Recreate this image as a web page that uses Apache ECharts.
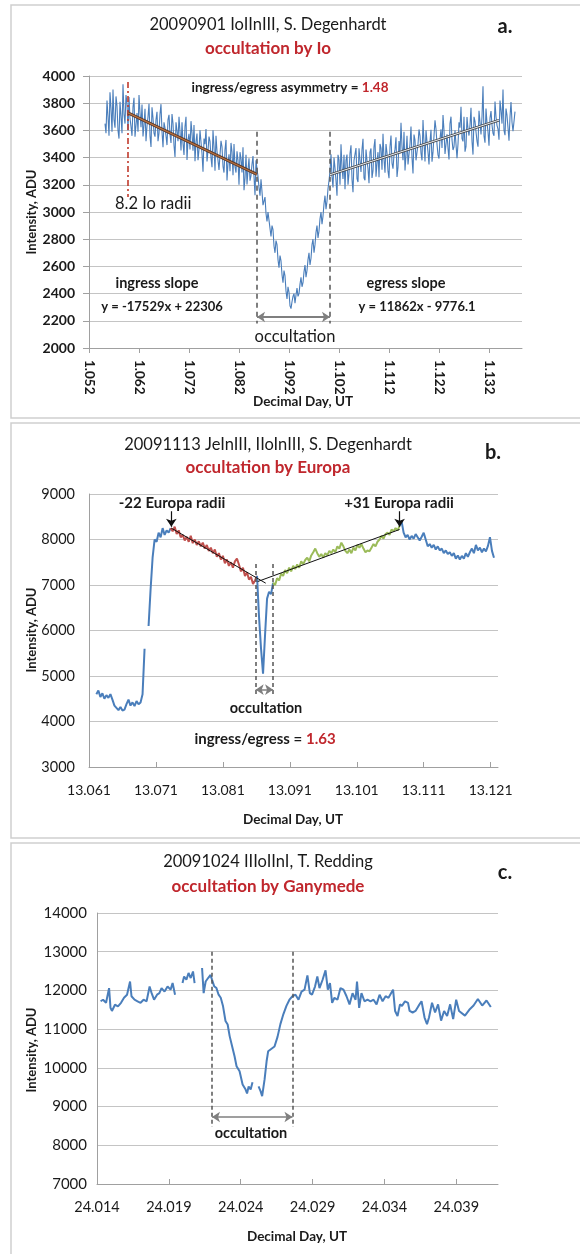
<!DOCTYPE html>
<html><head><meta charset="utf-8">
<script src="https://cdn.jsdelivr.net/npm/echarts@6/dist/echarts.min.js"></script>
<style>html,body{margin:0;padding:0;background:#fff}#c{width:580px;height:1254px}</style>
</head><body><div id="c"></div><script>
// ---------- Panel a: 20090901, occultation by Io ----------
// two interleaved sample sets (even / odd samples)
const aStartEven = 1.0552, aStartOdd = 1.0554, aStep = 0.0004;
const aIntensityEven = [
3650,3820,3560,3760,3900,3620,3780,3540,3700,3940,3650,3800,
3845,3628,3771,3554,3727,3860,3623,3556,3759,3632,3795,3478,3691,3554,3737,3580,3793,3476,3619,3492,3715,3508,3651,3404,3597,3700,3453,3506,3629,3382,3575,3668,3451,3374,3577,3460,3603,3296,3499,3372,3555,3398,3601,3304,3447,3310,3523,3336,3459,3232,3425,3508,3271,3334,3447,3200,3393,3476,3249,3202,3395,3268,3411,3124,3317,
3180,3240,3050,3110,2930,2990,2820,2870,2700,2760,2590,2640,2480,2530,2360,2410,2290,
2380,2330,2440,2400,2520,2480,2610,2570,2700,2660,2800,2760,2900,2860,3000,2970,3120,3080,3230,
3425,3180,3324,3119,3383,3498,3243,3167,3422,3286,3491,3146,3390,3245,3469,3294,3539,3233,3378,3212,3467,3302,3536,3361,3255,3470,3575,3289,3434,3248,3563,3318,3462,3257,3521,3656,3381,3305,3560,3424,3629,3284,3528,3383,3607,3432,3677,3371,3516,3350,3605,3440,3674,3499,3393,3608,3713,3427,3572,3386,3701,3456,3600,3395,3659,3774,3519,3443,3698,3562,3767,3422,3666,3521,3745,3570,3925,3509,3654,3488,3743,3578,3812,3637,3531,3746,3901,3565,3710,3524,3809,3594,3738
];
const aIntensityOdd = [
3580,3700,3880,3590,3680,3850,3600,3810,3580,3720,3860,3600,
3690,3560,3840,3640,3590,3730,3790,3640,3520,3700,3560,3770,3580,3680,3520,3720,3590,3660,3560,3680,3570,3720,3490,3660,3520,3590,3660,3420,3700,3530,3460,3580,3640,3520,3380,3600,3430,3540,3610,3450,3520,3330,3480,3560,3380,3420,3480,3290,3530,3360,3300,3440,3500,3290,3380,3440,3290,3160,3420,3310,3230,3350,3260,3380,
3260,
3120,3150,3060,2990,3000,2880,2900,2750,2790,2650,2680,2540,2570,2420,2450,2310,
2340,
2400,2390,2380,2470,2450,2560,2520,2650,2610,2760,2700,2850,2810,2950,2910,3060,3020,3170,
3300,
3260,3400,3230,3420,3200,3330,3420,3380,3200,3430,3240,3380,3470,3220,3380,3460,3250,3460,3320,3440,3250,3480,3260,3440,3500,3310,3390,3500,3300,3480,3360,3420,3550,3330,3430,3480,3590,3420,3350,3500,3400,3570,3380,3500,3560,3380,3510,3600,3440,3520,3370,3560,3610,3420,3540,3470,3600,3500,3470,3650,3530,3480,3600,3500,3620,3540,3700,3480,3610,3640,3520,3700,3590,3480,3660,3700,3560,3760,3590,3690,3640,3560,3700,3610,3820,3650,3600,3760,3620,3700,3660,3580
];
const aIngressFit = [[1.0598, 3729], [1.0856, 3276]];
const aEgressFit = [[1.1002, 3274], [1.1340, 3675]];
const aOccultation = [1.0856, 1.1002];
const aRadiusMark = 1.0598;

// ---------- Panel b: 20091113, occultation by Europa ----------
const bStart = 13.0621, bStep = 0.0003;
const bIntensity = [
4600,4680,4540,4620,4500,4580,4520,4600,4480,4350,4300,4250,4320,4240,4260,4380,4480,4350,4420,4340,4450,4380,4420,4600,
5600,null,
6100,6900,7600,8000,7950,8150,8050,8250,8100,8200,8150,
8250,8180,8280,8120,8200,8050,8100,7980,8060,7950,8080,7920,8000,7880,7960,7850,7930,7800,7880,7750,7820,7700,7780,7620,7700,7560,7640,7480,7560,7420,7500,7380,7520,7580,7450,7300,7380,7200,7280,7120,7180,7020,7100,7200,
6300,5600,5050,5900,6700,6850,6800,
7050,7000,7150,7100,7250,7200,7330,7260,7380,7300,7420,7350,7450,7380,7520,7460,7550,7600,7520,7650,7720,7800,7700,7620,7680,7600,7700,7650,7750,7700,7780,7720,7850,7800,7930,7850,7750,7700,7780,7700,7820,7760,7880,7820,7900,7800,7720,7760,7740,7820,7900,7850,7950,8000,8080,8020,8120,8150,8100,8220,8180,8250,8200,8300,
8400,8150,8050,8100,8000,8080,8020,8120,8050,7980,8060,8150,8000,7850,7900,7820,7880,7780,7850,7760,7800,7700,7760,7680,7720,7640,7700,7580,7650,7560,7640,7580,7700,7620,7720,7800,7700,7880,7760,7820,7720,7800,7740,7860,8050,7750,7600
];
// index ranges (inclusive) of the coloured pieces
const bPieces = [
  {from: 0, to: 37, color: '#4a7ebb'},
  {from: 37, to: 80, color: '#c0504d'},
  {from: 80, to: 88, color: '#4a7ebb'},
  {from: 88, to: 151, color: '#9bbb59'},
  {from: 151, to: 198, color: '#4a7ebb'}
];
const bIngressFit = [[13.0733, 8250], [13.0874, 7040]];
const bEgressFit = [[13.0862, 7076], [13.1074, 8220]];
const bOccultation = [13.0859, 13.0885];
const bRadiusMarks = [13.0733, 13.1074];

// ---------- Panel c: 20091024, occultation by Ganymede ----------
const cDay = [24.01425,24.01442,24.01463,24.01484,24.01494,24.01504,24.01525,24.01546,24.01567,24.01588,24.01609,24.0163,24.0164,24.01661,24.01682,24.01703,24.01724,24.01745,24.01766,24.0178,24.01797,24.01818,24.01834,24.01849,24.0187,24.01891,24.01912,24.01926,24.01943,
24.0197,
24.01995,24.02006,24.02022,24.02037,24.02052,24.02068,24.02079,
24.02105,
24.02131,24.02142,24.02156,24.02173,24.0219,24.022,24.02215,24.02231,24.02246,24.02261,24.02277,24.02294,24.02309,24.02323,24.0234,24.02357,24.02371,24.02392,24.02413,24.02434,24.02444,24.02455,24.02469,24.02482,
24.02503,
24.02524,24.02538,24.02549,24.02566,24.0258,24.02591,24.02601,
24.02635,24.02656,24.02676,24.02697,24.02718,24.02739,24.0276,24.02781,24.02802,24.02823,24.02844,24.02864,24.02881,24.02896,24.02917,24.02933,24.02948,24.02969,24.0299,24.03006,24.03021,24.03036,24.03052,24.03073,24.03094,24.03115,24.03136,24.03157,24.03178,24.03199,24.03209,24.03224,24.0324,24.03261,24.03282,24.03303,24.03324,24.03345,24.03366,24.03387,24.03408,24.03428,24.0346,24.03474,24.03491,24.03508,24.03522,24.03543,24.03564,24.03575,24.03596,24.03616,24.03637,24.03658,24.03679,24.03696,24.0371,24.03731,24.03752,24.03773,24.03794,24.03815,24.03836,24.03857,24.03878,24.03899,24.03919,
24.0396,24.0399,24.0402,24.0405,24.0408,24.0411,24.0414];
const cIntensity = [11720,11760,11680,12060,11550,11470,11630,11590,11680,11810,11890,12230,11850,11760,11720,11680,11760,11720,12100,11930,11760,11890,11930,12060,11970,12100,12020,12190,11890,
null,
12190,12360,12280,12450,12320,12490,12190,
null,
12580,11930,12230,12320,12400,12280,12110,12060,11890,11810,11590,11210,11120,10820,10560,10300,10040,9910,9570,9440,9340,9520,9440,9630,
null,
9520,9400,9270,9700,10170,10430,10390,
10550,10800,11130,11390,11600,11760,11850,11890,11760,11970,12020,12390,11930,11890,12100,12360,12060,12270,12520,12020,12190,11680,11810,11760,12060,12020,11850,11640,11930,11760,12230,11550,11930,11720,11760,11720,11760,11640,11890,11720,11850,11810,12020,11470,11340,11640,11600,11720,11680,11470,11430,11470,11600,11720,11300,11130,11300,11680,11430,11640,11220,11470,11340,11640,11260,11760,11470,
11350,11500,11610,11780,11610,11740,11570];
const cOccultation = [24.0220, 24.0276];

// ---------- chart ----------
const FONT = 'Lato, "Liberation Sans", sans-serif';
const BLUE = '#4a7ebb', RED = '#c0272d', TXT = '#1a1a1a';
const chart = echarts.init(document.getElementById('c'), null, {renderer: 'canvas', width: 580, height: 1254});

function uniform(start, step, vals, from, to) {
  const out = [];
  for (let i = from; i <= to; i++) out.push([+(start + i * step).toFixed(5), vals[i] == null ? '-' : vals[i]]);
  return out;
}
function seg(g, coords, lineStyle, symbol, z) {
  return {type: 'lines', coordinateSystem: 'cartesian2d', xAxisIndex: g, yAxisIndex: g, silent: true,
    z: z || 4, symbol: symbol || 'none', symbolSize: 8, lineStyle: Object.assign({opacity: 1}, lineStyle),
    data: [{coords: coords}], animation: false};
}
function xAx(g, min, max, interval, lab, tickInside) {
  return {gridIndex: g, type: 'value', min: min, max: max, interval: interval,
    axisLine: {show: true, lineStyle: {color: '#a0a0a0', width: 1}},
    axisTick: {show: true, inside: tickInside, length: 5, lineStyle: {color: '#a0a0a0'}},
    splitLine: {show: false},
    axisLabel: Object.assign({showMaxLabel: false, color: TXT, fontFamily: FONT,
      formatter: v => v.toFixed(3)}, lab)};
}
function yAx(g, min, max, interval, lab, tick) {
  return {gridIndex: g, type: 'value', min: min, max: max, interval: interval,
    axisLine: {show: true, lineStyle: {color: '#a0a0a0', width: 1}},
    axisTick: {show: tick, length: 6, lineStyle: {color: '#a0a0a0'}},
    splitLine: {show: true, lineStyle: {color: '#c4c4c4', width: 1}},
    axisLabel: Object.assign({color: TXT, fontFamily: FONT, formatter: v => String(Math.round(v))}, lab)};
}
function T(x, y, text, font, extra) {
  return Object.assign({type: 'text', x: x, y: y, z: 20, silent: true,
    style: Object.assign({text: text, fill: TXT, font: font, align: 'center', verticalAlign: 'middle'}, (extra && extra.style) || {})},
    extra && extra.rotation ? {rotation: extra.rotation} : {});
}
const bold = s => 'bold ' + s + 'px ' + FONT;
const reg = s => s + 'px ' + FONT;

// merge the two sample sets of panel a in time order
const aData = uniform(aStartEven, aStep, aIntensityEven, 0, aIntensityEven.length - 1)
  .concat(uniform(aStartOdd, aStep, aIntensityOdd, 0, aIntensityOdd.length - 1))
  .sort((p, q) => p[0] - q[0]);

const series = [];
// panel a
series.push({type: 'line', xAxisIndex: 0, yAxisIndex: 0, data: aData,
  symbol: 'none', lineStyle: {color: BLUE, width: 1.1}, z: 2, animation: false});
series.push(seg(0, aIngressFit, {color: '#5b3a2a', width: 3}, 'none', 5));
series.push(seg(0, aIngressFit, {color: '#b8703f', width: 1.2}, 'none', 6));
series.push(seg(0, aEgressFit, {color: '#4a4a4a', width: 2.6}, 'none', 5));
series.push(seg(0, aEgressFit, {color: '#e8eef6', width: 1}, 'none', 6));
series.push(seg(0, [[aRadiusMark, 3956], [aRadiusMark, 3110]], {color: '#c0392b', width: 1.6, type: [6, 3, 2, 3]}));
aOccultation.forEach(x => series.push(seg(0, [[x, 3590], [x, 2180]], {color: '#555', width: 1.5, type: [5, 4]})));
series.push(seg(0, [[aOccultation[0], 2228], [aOccultation[1], 2228]], {color: '#7f7f7f', width: 2}, ['arrow', 'arrow']));
// panel b
bPieces.forEach(p => series.push({type: 'line', xAxisIndex: 1, yAxisIndex: 1,
  data: uniform(bStart, bStep, bIntensity, p.from, p.to), symbol: 'none',
  lineStyle: {color: p.color, width: 2}, z: 2, animation: false}));
series.push(seg(1, bIngressFit, {color: '#111', width: 1}));
series.push(seg(1, bEgressFit, {color: '#111', width: 1}));
bRadiusMarks.forEach(x => series.push(seg(1, [[x, 8620], [x, 8280]], {color: '#111', width: 1.2}, ['none', 'arrow'])));
bOccultation.forEach(x => series.push(seg(1, [[x, 7460], [x, 4580]], {color: '#555', width: 1.5, type: [4, 3]})));
series.push(seg(1, [[bOccultation[0], 4700], [bOccultation[1], 4700]], {color: '#7f7f7f', width: 1.5}, ['arrow', 'arrow']));
// panel c
series.push({type: 'line', xAxisIndex: 2, yAxisIndex: 2, data: cDay.map((d, i) => [d, cIntensity[i] == null ? '-' : cIntensity[i]]),
  symbol: 'none', connectNulls: false, lineStyle: {color: BLUE, width: 2}, z: 2, animation: false});
cOccultation.forEach(x => series.push(seg(2, [[x, 13000], [x, 8470]], {color: '#555', width: 1.5, type: [4, 3]})));
series.push(seg(2, [[cOccultation[0], 8730], [cOccultation[1], 8730]], {color: '#7f7f7f', width: 1.5}, ['arrow', 'arrow']));

const frame = (y, h) => ({type: 'rect', z: -10, silent: true, shape: {x: 11, y: y, width: 600, height: h},
  style: {fill: '#fff', stroke: '#cfcfcf', lineWidth: 1.5}});

const graphics = [
  frame(5, 413), frame(423, 415), frame(843, 420),
  // panel a
  T(268, 25, '20090901 IoIInIII, S. Degenhardt', reg(16.5)),
  T(268, 49, 'occultation by Io', bold(17), {style: {fill: RED}}),
  T(505, 27, 'a.', bold(20)),
  T(290, 88, 'ingress/egress asymmetry = {r|1.48}', bold(13.5), {style: {rich: {r: {fill: RED, font: bold(13.5)}}}}),
  T(115, 204, '8.2 Io radii', reg(16.5), {style: {align: 'left'}}),
  T(157, 283, 'ingress slope', bold(14.5)),
  T(162, 307, 'y = -17529x + 22306', bold(13)),
  T(406, 283, 'egress slope', bold(14.5)),
  T(417, 307, 'y = 11862x - 9776.1', bold(13)),
  T(295, 337, 'occultation', reg(16.5)),
  T(32, 212, 'Intensity, ADU', bold(13), {rotation: Math.PI / 2}),
  T(303, 402, 'Decimal Day, UT', bold(13.5), {style: {backgroundColor: '#fff', padding: [1, 2]}}),
  // panel b
  T(268, 445, '20091113 JeInIII, IIoInIII, S. Degenhardt', reg(16.5)),
  T(268, 468, 'occultation by Europa', bold(17), {style: {fill: RED}}),
  T(493, 453, 'b.', bold(20)),
  T(172, 503, '-22 Europa radii', bold(15)),
  T(399, 503, '+31 Europa radii', bold(15)),
  T(266, 708, 'occultation', bold(14.5)),
  T(265, 739, 'ingress/egress = {r|1.63}', bold(15), {style: {rich: {r: {fill: RED, font: bold(15)}}}}),
  T(32, 630, 'Intensity, ADU', bold(13), {rotation: Math.PI / 2}),
  T(293, 820, 'Decimal Day, UT', bold(13.5)),
  // panel c
  T(268, 862, '20091024 IIIoIInI, T. Redding', reg(16.5)),
  T(268, 887, 'occultation by Ganymede', bold(17), {style: {fill: RED}}),
  T(505, 873, 'c.', bold(20)),
  T(251, 1133, 'occultation', bold(14.5)),
  T(32, 1050, 'Intensity, ADU', bold(13), {rotation: Math.PI / 2}),
  T(297, 1237, 'Decimal Day, UT', bold(13.5))
];

chart.setOption({
  backgroundColor: '#fff',
  animation: false,
  grid: [
    {left: 89, top: 76, width: 433, height: 272},
    {left: 89, top: 494, width: 409, height: 273},
    {left: 97, top: 913, width: 401, height: 271}
  ],
  xAxis: [
    xAx(0, 1.052, 1.1386, 0.01, {rotate: -90, fontWeight: 'bold', fontSize: 13.5, margin: 12}, false),
    xAx(1, 13.061, 13.1221, 0.01, {fontSize: 14, margin: 16}, true),
    xAx(2, 24.014, 24.0419, 0.005, {fontSize: 14.5, margin: 16}, true)
  ],
  yAxis: [
    yAx(0, 2000, 4000, 200, {fontWeight: 'bold', fontSize: 14, margin: 14}, true),
    yAx(1, 3000, 9000, 1000, {fontSize: 14.5, margin: 14}, false),
    yAx(2, 7000, 14000, 1000, {fontSize: 15, margin: 10}, false)
  ],
  series: series,
  graphic: graphics
});
</script></body></html>
